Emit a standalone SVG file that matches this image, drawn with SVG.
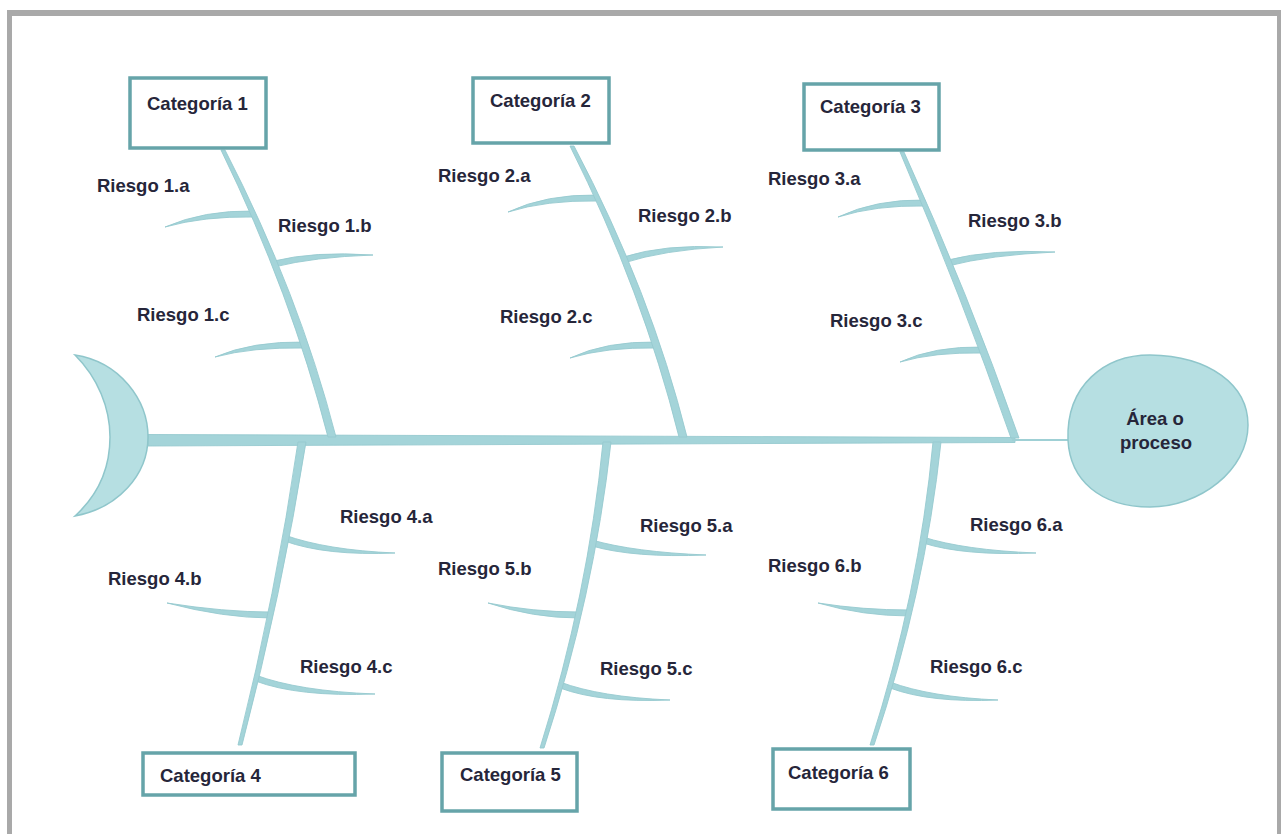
<svg xmlns="http://www.w3.org/2000/svg" width="1281" height="834" viewBox="0 0 1281 834">
<style>
.frame{fill:#a9a9a9}
.bone{fill:#a4d4d9;stroke:#96cacf;stroke-width:0.9;stroke-linejoin:round}
.head{fill:#b6dfe2;stroke:#8fc6cb;stroke-width:1.5}
.box{fill:#ffffff;stroke:#66a4a9;stroke-width:3.5}
.t{font-family:"Liberation Sans",Arial,sans-serif;font-size:18.5px;font-weight:bold;fill:#26263a}
.c{text-anchor:middle}
</style>
<rect width="1281" height="834" fill="#ffffff"/>
<g id="frame">
<rect class="frame" x="7" y="10" width="1274" height="6"/>
<rect class="frame" x="7" y="10" width="5" height="824"/>
<rect class="frame" x="1277" y="10" width="4" height="824"/>
</g>
<g id="connectors">
<path class="bone" d="M148,434.5 L1015,437.5 L1015,442.5 L148,446 Z"/>
<line x1="1012" y1="440" x2="1070" y2="440" stroke="#9fd0d5" stroke-width="2"/>
<path class="bone" d="M254,211 Q204,210 165,227 Q204,216 254,217 Z"/>
<path class="bone" d="M305.5,342 Q252,341 215,357 Q252,347 305.5,348 Z"/>
<path class="bone" d="M598,195 Q546,194 508,212 Q546,200 598,201 Z"/>
<path class="bone" d="M657,342 Q606,341 570,358 Q606,347 657,348 Z"/>
<path class="bone" d="M925,200 Q876,199 838,217 Q876,205 925,206 Z"/>
<path class="bone" d="M983.5,347 Q934,346 900,362 Q934,352 983.5,353 Z"/>
<path class="bone" d="M274,261 Q314,251 373,255 Q314,257 274,267 Z"/>
<path class="bone" d="M623.5,257 Q664,244 723,247 Q664,250 623.5,263 Z"/>
<path class="bone" d="M948,260 Q990,249 1055,252 Q990,255 948,266 Z"/>
<path class="bone" d="M284.5,535 Q326,550 395,553 Q326,556 284.5,541 Z"/>
<path class="bone" d="M255.5,675 Q298,691 375,694 Q298,697 255.5,681 Z"/>
<path class="bone" d="M592,540 Q634,552 706,555 Q634,558 592,546 Z"/>
<path class="bone" d="M560,682 Q600,697 670,700 Q600,703 560,688 Z"/>
<path class="bone" d="M923,537 Q964,550 1036,553 Q964,556 923,543 Z"/>
<path class="bone" d="M890,682 Q930,697 998,700 Q930,703 890,688 Z"/>
<path class="bone" d="M271.5,612 Q224,612 167,603 Q224,618 271.5,618 Z"/>
<path class="bone" d="M579,612 Q533,612 488,603 Q533,618 579,618 Z"/>
<path class="bone" d="M910,610 Q863,610 818,603 Q863,616 910,616 Z"/>
<path class="bone" d="M221,150 Q291,293.5 328,437 L336,437 Q299,293.5 225,150 Z"/>
<path class="bone" d="M570,146 Q643,292 679,437 L687,437 Q651,292 574,146 Z"/>
<path class="bone" d="M900,152 Q961,295 1011,438 L1019,438 Q969,295 904,152 Z"/>
<path class="bone" d="M298,442 Q276,593 238,745 L242,745 Q282,593 306,442 Z"/>
<path class="bone" d="M603,442 Q588,595 540,748 L544,748 Q594,595 611,442 Z"/>
<path class="bone" d="M933,442 Q919,593 870,745 L874,745 Q925,593 941,442 Z"/>
</g>
<g id="tail">
<path class="head" d="M75,355 C120,362 148,400 148,437 C148,475 118,508 75,516 C98,495 110,468 110,437 C110,408 98,378 75,355 Z"/>
</g>
<g id="effect">
<path class="head" d="M1068,440 C1066,385 1105,355 1150,355 C1210,356 1248,385 1248,425 C1248,470 1200,507 1150,507 C1100,507 1070,480 1068,440 Z"/>
<text class="t c" x="1155" y="425">Área o</text>
<text class="t c" x="1156" y="449">proceso</text>
</g>
<g id="cat1"><rect class="box" x="130" y="78" width="136" height="70"/><text class="t" x="147" y="110">Categoría 1</text></g>
<g id="cat2"><rect class="box" x="473" y="78" width="136" height="65"/><text class="t" x="490" y="107">Categoría 2</text></g>
<g id="cat3"><rect class="box" x="804" y="84" width="135" height="66"/><text class="t" x="820" y="113">Categoría 3</text></g>
<g id="cat4"><rect class="box" x="143" y="753" width="212" height="42"/><text class="t" x="160" y="782">Categoría 4</text></g>
<g id="cat5"><rect class="box" x="442" y="753" width="135" height="58"/><text class="t" x="460" y="781">Categoría 5</text></g>
<g id="cat6"><rect class="box" x="773" y="749" width="137" height="60"/><text class="t" x="788" y="779">Categoría 6</text></g>
<g id="r1a"><text class="t" x="97" y="192">Riesgo 1.a</text></g>
<g id="r1b"><text class="t" x="278" y="232">Riesgo 1.b</text></g>
<g id="r1c"><text class="t" x="137" y="321">Riesgo 1.c</text></g>
<g id="r2a"><text class="t" x="438" y="182">Riesgo 2.a</text></g>
<g id="r2b"><text class="t" x="638" y="222">Riesgo 2.b</text></g>
<g id="r2c"><text class="t" x="500" y="323">Riesgo 2.c</text></g>
<g id="r3a"><text class="t" x="768" y="185">Riesgo 3.a</text></g>
<g id="r3b"><text class="t" x="968" y="227">Riesgo 3.b</text></g>
<g id="r3c"><text class="t" x="830" y="327">Riesgo 3.c</text></g>
<g id="r4a"><text class="t" x="340" y="523">Riesgo 4.a</text></g>
<g id="r4b"><text class="t" x="108" y="585">Riesgo 4.b</text></g>
<g id="r4c"><text class="t" x="300" y="673">Riesgo 4.c</text></g>
<g id="r5a"><text class="t" x="640" y="532">Riesgo 5.a</text></g>
<g id="r5b"><text class="t" x="438" y="575">Riesgo 5.b</text></g>
<g id="r5c"><text class="t" x="600" y="675">Riesgo 5.c</text></g>
<g id="r6a"><text class="t" x="970" y="531">Riesgo 6.a</text></g>
<g id="r6b"><text class="t" x="768" y="572">Riesgo 6.b</text></g>
<g id="r6c"><text class="t" x="930" y="673">Riesgo 6.c</text></g>
</svg>
